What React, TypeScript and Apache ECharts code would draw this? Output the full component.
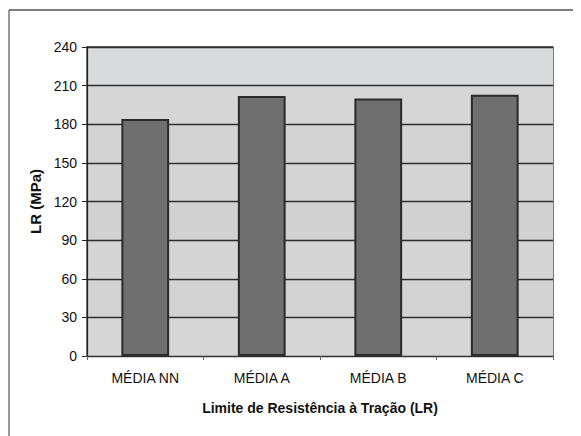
import React, { useEffect, useRef } from "react";
import * as echarts from "echarts";

const categories = ["MÉDIA NN", "MÉDIA A", "MÉDIA B", "MÉDIA C"];
const lrValues = [184, 202, 200, 203];
const yTicks = [0, 30, 60, 90, 120, 150, 180, 210, 240];
const xAxisTitle = "Limite de Resistência à Tração (LR)";
const yAxisTitle = "LR (MPa)";

export default function App() {
  const ref = useRef<HTMLDivElement>(null);

  useEffect(() => {
    if (!ref.current) return;
    const chart = echarts.init(ref.current, undefined, { renderer: "svg" });
    const font = "'Liberation Sans', Arial, sans-serif";
    chart.setOption({
      animation: false,
      backgroundColor: "#ffffff",
      textStyle: { fontFamily: font },
      graphic: [
        {
          type: "line",
          shape: { x1: 1, y1: 2, x2: 573, y2: 2 },
          style: { stroke: "#555", lineWidth: 1.5 },
        },
        {
          type: "line",
          shape: { x1: 1, y1: 2, x2: 1, y2: 428 },
          style: { stroke: "#777", lineWidth: 1.5 },
        },
      ],
      grid: {
        left: 79,
        right: 28,
        top: 39,
        bottom: 80,
        show: true,
        borderColor: "#333",
        borderWidth: 1.3,
      },
      xAxis: {
        type: "category",
        data: categories,
        name: xAxisTitle,
        nameLocation: "middle",
        nameGap: 45,
        nameTextStyle: {
          fontFamily: font,
          fontSize: 14,
          fontWeight: "bold",
          color: "#111",
        },
        axisLine: { lineStyle: { color: "#333", width: 1 } },
        axisTick: { show: true, length: 4, lineStyle: { color: "#666" } },
        axisLabel: {
          fontFamily: font,
          fontSize: 14,
          color: "#111",
          margin: 15,
        },
      },
      yAxis: {
        type: "value",
        min: yTicks[0],
        max: yTicks[yTicks.length - 1],
        interval: 30,
        name: yAxisTitle,
        nameLocation: "middle",
        nameGap: 37,
        nameRotate: 90,
        nameTextStyle: {
          fontFamily: font,
          fontSize: 15,
          fontWeight: "bold",
          color: "#111",
        },
        axisLine: { show: true, lineStyle: { color: "#222", width: 1.2 } },
        axisTick: { show: true, length: 5, lineStyle: { color: "#222" } },
        axisLabel: { fontFamily: font, fontSize: 14, color: "#111", margin: 10 },
        splitLine: { show: true, lineStyle: { color: "#2e2e2e", width: 1.3 } },
        splitArea: {
          show: true,
          areaStyle: {
            color: [
              "#d6d6d6",
              "#d2d2d2",
              "#d5d5d5",
              "#d1d1d1",
              "#d4d4d4",
              "#d3d3d3",
              "#d6d6d6",
              "#d9dadc",
            ],
          },
        },
      },
      series: [
        {
          type: "bar",
          data: lrValues,
          barWidth: "41%",
          itemStyle: {
            color: "#6f6f6f",
            borderColor: "#2a2a2a",
            borderWidth: 2,
          },
        },
      ],
    });
    return () => chart.dispose();
  }, []);

  return <div ref={ref} style={{ width: 573, height: 428 }} />;
}
